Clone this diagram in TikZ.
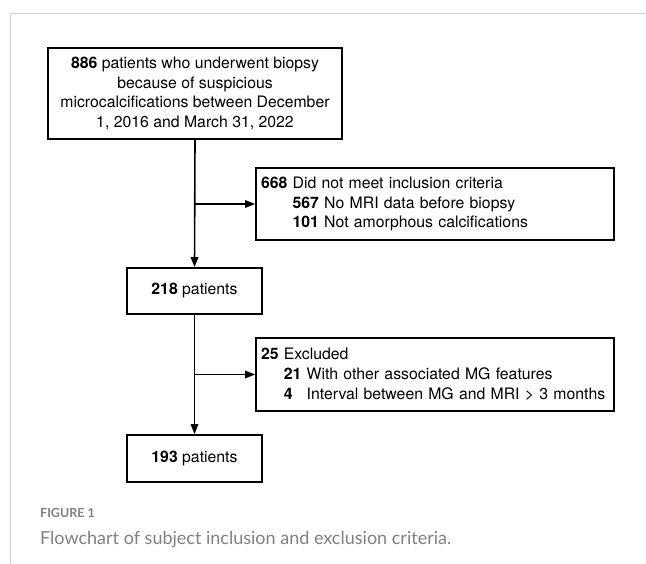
\documentclass[tikz,border=0pt]{standalone}
\usepackage{fontspec}
\setmainfont{TeX Gyre Heros}
\newfontfamily\capfont{Lato}
\usetikzlibrary{arrows.meta}
\definecolor{framegray}{HTML}{D0D0D0}
\definecolor{capgray}{HTML}{808080}
\begin{document}
\begin{tikzpicture}[x=1pt,y=-1pt,
  box/.style={draw=black, line width=1.7pt, inner sep=0pt, font=\fontsize{15.8}{19.5}\selectfont},
  leftbox/.style={box, align=left, inner xsep=5pt, font=\fontsize{15.8}{19.8}\selectfont},
  arr/.style={line width=1.6pt, -{Triangle[length=10pt,width=7.5pt]}},
  frameline/.style={draw=framegray, line width=1pt}
]
\useasboundingbox (0,0) rectangle (646,564);
\path[fill=white] (0,0) rectangle (646,564);
% frame
\draw[frameline] (10,564) -- (10,14) -- (646,14);

\node[box, minimum width=294pt, minimum height=91pt, align=center] (b1) at (195,93.5)
  {\textbf{886} patients who underwent biopsy\\because of suspicious\\microcalcifications between December\\1, 2016 and March 31, 2022};

\node[leftbox, minimum width=358pt, minimum height=72pt, text width=348pt] (b2) at (435,204)
  {\mbox{\textbf{668} Did not meet inclusion criteria}\\
   \mbox{\hphantom{\textbf{668} }\textbf{567} No MRI data before biopsy}\\
   \mbox{\hphantom{\textbf{668} }\textbf{101} Not amorphous calcifications}};

\node[box, minimum width=135pt, minimum height=46pt] (b3) at (194.5,291) {\textbf{218} patients};

\node[leftbox, minimum width=358pt, minimum height=73pt, text width=348pt] (b4) at (435,374.5)
  {\mbox{\textbf{25} Excluded}\\
   \mbox{\hphantom{\textbf{25} }\textbf{21} With other associated MG features}\\
   \mbox{\hphantom{\textbf{25} }\textbf{4\phantom{1}} Interval between MG and MRI > 3 months}};

\node[box, minimum width=135pt, minimum height=47pt] (b5) at (194.5,458.5) {\textbf{193} patients};

\draw[arr] (b1.south) -- (b3.north);
\draw[arr] (b3.south) -- (b5.north);
\coordinate (j1) at (b1.south |- b2.west);
\coordinate (j2) at (b3.south |- b4.west);
\draw[arr] (j1) -- (b2.west);
\draw[arr] (j2) -- (b4.west);

\node[anchor=base west, inner sep=0pt, text=capgray, font=\capfont\bfseries\fontsize{12.5}{14}\selectfont] (fig) at (40,517) {FIGURE 1};
\node[anchor=base west, inner sep=0pt, text=capgray, font=\capfont\fontsize{18}{20}\selectfont] (cap) at (40,544) {Flowchart of subject inclusion and exclusion criteria.};
\end{tikzpicture}
\end{document}
